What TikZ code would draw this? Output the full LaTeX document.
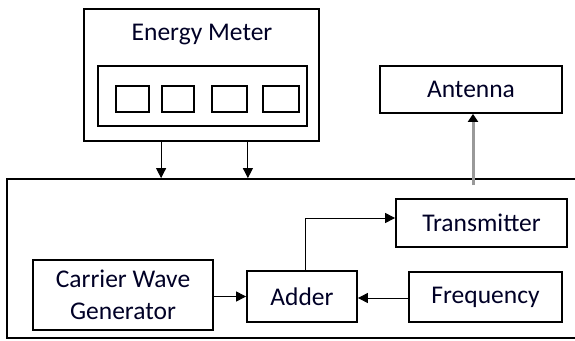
\documentclass[tikz,border=0pt]{standalone}
\usepackage{fontspec}
\setmainfont{Carlito}
\usetikzlibrary{arrows.meta}
\begin{document}
\begin{tikzpicture}[x=1pt,y=-1pt,
  box/.style={draw=black, line width=1.8pt, inner sep=0pt, fill=white},
  lbl/.style={font=\fontsize{25.5}{30}\selectfont, text=black!85!blue, align=center, inner sep=0pt},
  arr/.style={draw=black, line width=1pt, -{Triangle[width=10pt,length=10pt]}},
  garr/.style={draw=black!40, line width=3pt, -{Triangle[width=10pt,length=8pt,color=black]}}]
\useasboundingbox (0,0) rectangle (575,340);
\fill[white] (0,0) rectangle (575,340);
% energy meter
\node[box, minimum width=235pt, minimum height=132pt] (em) at (201.5,75) {};
\node[lbl] (emt) at (202,35) {Energy Meter};
\node[box, minimum width=209pt, minimum height=60pt] (inner) at (202.5,96) {};
\node[box, minimum width=33pt, minimum height=26pt] (sq1) at (132.5,99) {};
\node[box, minimum width=32pt, minimum height=26pt] (sq2) at (178,99) {};
\node[box, minimum width=35pt, minimum height=26pt] (sq3) at (229.5,99) {};
\node[box, minimum width=36pt, minimum height=26pt] (sq4) at (281,99) {};
% big box
\node[box, minimum width=580pt, minimum height=159pt] (big) at (297,258.5) {};
% other blocks
\node[box, minimum width=182pt, minimum height=47pt] (ant) at (471,89.5) {};
\node[lbl] at (ant) {Antenna};
\node[box, minimum width=171pt, minimum height=48pt] (trans) at (481.5,223) {};
\node[lbl] at (trans) {Transmitter};
\node[box, minimum width=180pt, minimum height=70pt] (carrier) at (123,295) {};
\node[lbl, font=\fontsize{25.5}{32}\selectfont] at (carrier) {Carrier Wave\\Generator};
\node[box, minimum width=110pt, minimum height=51pt] (adder) at (302,296.5) {};
\node[lbl] at (adder) {Adder};
\node[box, minimum width=153pt, minimum height=50pt] (freq) at (485.5,297) {};
\node[lbl] at (freq) {Frequency};
% connectors
\draw[arr] (em.south -| sq2.west) -- (big.north -| sq2.west);
\draw[arr] (em.south -| sq3.east) -- (big.north -| sq3.east);
\coordinate (tx) at (473,185);
\draw[garr] (tx) -- (ant.south -| tx);
\draw[arr] ([xshift=3pt]adder.north) |- ([yshift=5pt]trans.west);
\draw[arr] ([yshift=-1.5pt]carrier.east) -- ([yshift=-1.5pt]carrier.east -| adder.west);
\draw[arr] ([yshift=-1pt]freq.west) -- ([yshift=-1pt]freq.west -| adder.east);
\end{tikzpicture}
\end{document}
